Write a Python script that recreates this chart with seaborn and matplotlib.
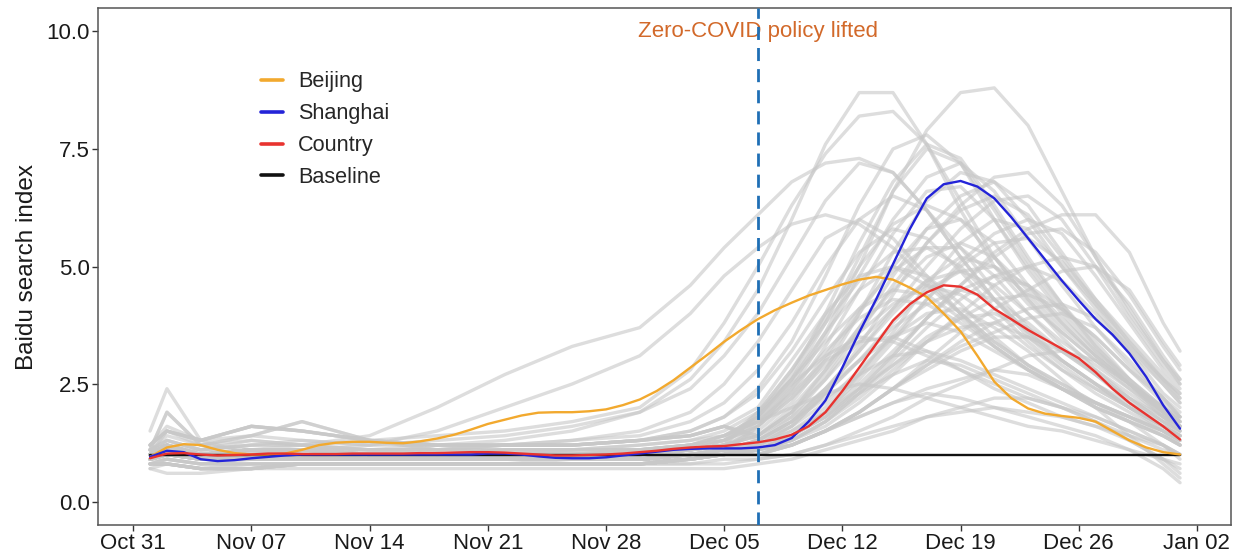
import numpy as np
import pandas as pd
import matplotlib
matplotlib.use("Agg")
import matplotlib.pyplot as plt
import matplotlib.dates as mdates
import seaborn as sns

# ---------------- data ----------------
days = pd.date_range("2022-11-01", "2023-01-01", freq="D")  # 62 days

beijing = [0.95, 1.15, 1.22, 1.20, 1.10, 1.03, 1.00, 1.00, 1.02, 1.10,
           1.20, 1.25, 1.27, 1.27, 1.25, 1.24, 1.28, 1.34, 1.42, 1.53,
           1.65, 1.74, 1.83, 1.89, 1.90, 1.90, 1.92, 1.96, 2.05, 2.17,
           2.35, 2.58, 2.85, 3.12, 3.40, 3.65, 3.88, 4.07, 4.23, 4.38,
           4.50, 4.62, 4.72, 4.78, 4.72, 4.55, 4.35, 4.00, 3.62, 3.10,
           2.55, 2.20, 1.98, 1.87, 1.82, 1.78, 1.70, 1.50, 1.30, 1.15,
           1.05, 1.00]
shanghai = [0.95, 1.08, 1.05, 0.90, 0.86, 0.88, 0.92, 0.95, 0.98, 1.00,
            1.00, 1.00, 1.00, 1.00, 1.00, 1.00, 1.00, 1.00, 1.00, 1.00,
            1.02, 1.02, 1.00, 0.96, 0.93, 0.92, 0.92, 0.94, 0.98, 1.02,
            1.06, 1.10, 1.12, 1.13, 1.13, 1.13, 1.15, 1.20, 1.35, 1.70,
            2.15, 2.85, 3.60, 4.30, 5.05, 5.80, 6.45, 6.75, 6.82, 6.70,
            6.45, 6.05, 5.60, 5.15, 4.70, 4.28, 3.88, 3.55, 3.15, 2.65,
            2.05, 1.55]
country = [0.92, 1.02, 1.03, 1.00, 0.98, 0.99, 1.00, 1.02, 1.02, 1.01,
           1.01, 1.01, 1.02, 1.02, 1.02, 1.02, 1.03, 1.03, 1.04, 1.05,
           1.05, 1.04, 1.02, 1.00, 0.98, 0.98, 0.99, 1.00, 1.02, 1.05,
           1.08, 1.12, 1.15, 1.17, 1.18, 1.22, 1.26, 1.32, 1.42, 1.60,
           1.90, 2.35, 2.85, 3.35, 3.85, 4.20, 4.45, 4.60, 4.57, 4.40,
           4.10, 3.88, 3.65, 3.45, 3.25, 3.05, 2.75, 2.40, 2.10, 1.85,
           1.60, 1.32]
baseline = [1.0] * 62

series_names = ["Beijing", "Shanghai", "Country", "Baseline"]
series_colors = ["#F2A92E", "#2424D8", "#E8332F", "#111111"]

# other cities (grey), sampled on a coarser grid of dates
city_dates = pd.to_datetime([
    "2022-11-01", "2022-11-02", "2022-11-04", "2022-11-07", "2022-11-10",
    "2022-11-14", "2022-11-18", "2022-11-22", "2022-11-26", "2022-11-30",
    "2022-12-03", "2022-12-05", "2022-12-07", "2022-12-09", "2022-12-11",
    "2022-12-13", "2022-12-15", "2022-12-17", "2022-12-19", "2022-12-21",
    "2022-12-23", "2022-12-25", "2022-12-27", "2022-12-29", "2022-12-31",
    "2023-01-01"])
other_cities = [
    [1.0, 1.2, 0.9, 1.0, 1.1, 1.1, 1.2, 1.3, 1.5, 1.9, 2.6, 3.4, 4.5, 6.0, 7.6, 8.7, 8.7, 7.6, 6.2, 5.0, 4.2, 3.6, 3.0, 2.5, 2.0, 1.8],
    [0.9, 1.1, 1.0, 1.1, 1.0, 1.0, 1.0, 1.1, 1.1, 1.2, 1.3, 1.4, 1.7, 2.5, 3.6, 5.0, 6.6, 7.9, 8.7, 8.8, 8.0, 6.6, 5.2, 4.0, 3.0, 2.6],
    [1.1, 1.4, 1.2, 1.3, 1.2, 1.3, 1.4, 1.5, 1.7, 2.0, 2.8, 3.8, 5.0, 6.3, 7.4, 8.2, 8.3, 7.6, 6.4, 5.2, 4.3, 3.6, 3.0, 2.4, 1.8, 1.6],
    [1.0, 1.2, 1.1, 1.2, 1.2, 1.4, 2.0, 2.7, 3.3, 3.7, 4.6, 5.4, 6.1, 6.8, 7.2, 7.3, 7.0, 6.2, 5.2, 4.3, 3.5, 2.9, 2.4, 2.0, 1.6, 1.4],
    [1.0, 1.1, 1.0, 1.1, 1.1, 1.2, 1.5, 2.0, 2.5, 3.1, 4.0, 4.8, 5.4, 5.9, 6.1, 5.9, 5.4, 4.7, 4.0, 3.4, 2.9, 2.5, 2.1, 1.8, 1.5, 1.3],
    [0.9, 1.0, 1.1, 1.3, 1.2, 1.1, 1.0, 1.0, 1.1, 1.1, 1.2, 1.4, 1.8, 2.6, 3.8, 5.2, 6.6, 7.5, 7.2, 6.2, 5.1, 4.2, 3.4, 2.6, 1.9, 1.6],
    [1.0, 1.1, 0.9, 1.0, 1.1, 1.0, 0.9, 1.0, 1.0, 1.0, 1.1, 1.2, 1.4, 1.9, 2.8, 4.0, 5.3, 6.4, 7.0, 6.8, 6.0, 5.0, 4.1, 3.2, 2.3, 2.0],
    [1.2, 1.6, 1.3, 1.4, 1.3, 1.2, 1.2, 1.2, 1.3, 1.4, 1.7, 2.1, 2.8, 3.8, 5.0, 6.0, 6.5, 6.2, 5.4, 4.5, 3.7, 3.0, 2.5, 2.0, 1.6, 1.4],
    [0.8, 0.9, 0.8, 0.9, 0.9, 0.9, 0.9, 0.9, 0.9, 0.9, 1.0, 1.0, 1.1, 1.4, 1.9, 2.7, 3.6, 4.6, 5.5, 6.0, 5.8, 5.0, 4.2, 3.4, 2.6, 2.2],
    [1.0, 1.3, 1.1, 1.0, 1.0, 1.0, 1.0, 1.1, 1.1, 1.1, 1.2, 1.3, 1.6, 2.2, 3.1, 4.1, 4.9, 5.4, 5.4, 4.8, 4.0, 3.3, 2.7, 2.1, 1.6, 1.4],
    [0.9, 1.0, 0.9, 0.9, 0.9, 0.9, 0.9, 0.9, 0.9, 0.9, 0.9, 1.0, 1.1, 1.3, 1.7, 2.3, 3.0, 3.7, 4.3, 4.8, 5.0, 4.7, 4.0, 3.3, 2.6, 2.3],
    [1.1, 1.2, 1.0, 1.1, 1.2, 1.1, 1.1, 1.1, 1.1, 1.2, 1.3, 1.5, 1.9, 2.6, 3.4, 4.1, 4.5, 4.4, 3.9, 3.3, 2.8, 2.4, 2.1, 1.8, 1.5, 1.3],
    [0.8, 0.9, 0.8, 0.8, 0.8, 0.8, 0.8, 0.8, 0.9, 0.9, 0.9, 1.0, 1.1, 1.3, 1.7, 2.3, 2.9, 3.5, 3.9, 4.0, 3.7, 3.2, 2.7, 2.2, 1.8, 1.6],
    [1.0, 1.1, 1.0, 1.0, 0.9, 1.0, 1.0, 1.0, 1.0, 1.0, 1.0, 1.0, 1.1, 1.2, 1.5, 1.9, 2.4, 2.8, 3.2, 3.5, 3.5, 3.2, 2.8, 2.3, 1.8, 1.5],
    [0.7, 0.8, 0.7, 0.8, 0.8, 0.8, 0.8, 0.8, 0.8, 0.8, 0.9, 1.0, 1.1, 1.4, 1.8, 2.3, 2.7, 3.0, 2.9, 2.6, 2.3, 2.0, 1.7, 1.4, 1.1, 1.0],
    [1.0, 1.0, 1.0, 1.1, 1.0, 1.0, 1.0, 1.0, 1.0, 1.1, 1.2, 1.4, 1.7, 2.0, 2.3, 2.5, 2.4, 2.2, 2.0, 1.8, 1.6, 1.5, 1.3, 1.1, 0.9, 0.8],
    [0.9, 0.9, 0.8, 0.8, 0.8, 0.8, 0.8, 0.8, 0.8, 0.8, 0.8, 0.8, 0.9, 1.0, 1.2, 1.4, 1.6, 1.8, 1.9, 2.0, 1.9, 1.8, 1.6, 1.3, 0.9, 0.6],
    [1.0, 1.1, 1.0, 1.0, 1.0, 1.0, 1.0, 1.0, 1.0, 1.0, 1.0, 1.1, 1.2, 1.4, 1.8, 2.4, 3.1, 3.9, 4.6, 5.3, 5.8, 6.1, 6.1, 5.3, 3.8, 3.2],
    [0.9, 1.0, 0.9, 0.9, 1.0, 0.9, 0.9, 0.9, 0.9, 0.9, 1.0, 1.0, 1.0, 1.2, 1.5, 1.9, 2.4, 3.0, 3.6, 4.1, 4.5, 4.9, 5.0, 4.5, 3.4, 2.9],
    [1.1, 1.3, 1.1, 1.2, 1.3, 1.2, 1.3, 1.4, 1.6, 1.9, 2.4, 3.1, 4.0, 5.2, 6.4, 7.2, 7.0, 6.2, 5.2, 4.3, 3.6, 3.0, 2.5, 2.0, 1.6, 1.4],
    [1.0, 1.2, 1.0, 1.1, 1.1, 1.1, 1.1, 1.2, 1.3, 1.5, 1.9, 2.5, 3.4, 4.5, 5.6, 6.0, 5.6, 4.8, 4.0, 3.3, 2.8, 2.4, 2.0, 1.7, 1.4, 1.2],
    [1.0, 1.0, 1.0, 1.0, 1.1, 1.0, 1.0, 1.0, 1.0, 1.0, 1.1, 1.2, 1.4, 2.0, 2.8, 3.7, 4.5, 5.2, 5.5, 5.2, 4.5, 3.8, 3.1, 2.5, 2.0, 1.7],
    [0.9, 1.0, 0.9, 1.0, 0.9, 0.9, 0.9, 0.9, 0.9, 0.9, 1.0, 1.0, 1.1, 1.4, 1.9, 2.5, 3.2, 3.9, 4.5, 4.8, 4.6, 4.1, 3.5, 2.8, 2.2, 1.9],
    [1.1, 1.1, 1.0, 1.1, 1.0, 1.0, 1.0, 1.0, 1.0, 1.0, 1.1, 1.2, 1.4, 1.8, 2.4, 3.0, 3.5, 3.8, 3.6, 3.2, 2.8, 2.4, 2.0, 1.7, 1.4, 1.2],
    [0.9, 1.0, 0.9, 1.0, 1.0, 1.0, 1.0, 1.0, 1.0, 1.0, 1.1, 1.3, 1.6, 2.3, 3.3, 4.5, 5.7, 6.6, 6.7, 6.0, 5.0, 4.1, 3.3, 2.5, 1.9, 1.6],
    [1.0, 1.1, 1.0, 1.0, 1.0, 1.0, 1.0, 1.0, 1.0, 1.0, 1.0, 1.0, 1.1, 1.2, 1.5, 1.9, 2.4, 2.9, 3.4, 3.8, 4.1, 4.2, 3.9, 3.2, 2.5, 2.1],
    [1.0, 1.5, 1.2, 1.1, 1.1, 1.1, 1.1, 1.2, 1.2, 1.3, 1.5, 1.8, 2.3, 3.2, 4.3, 5.3, 5.8, 5.6, 4.9, 4.1, 3.4, 2.8, 2.3, 1.9, 1.5, 1.3],
    [0.8, 0.9, 0.8, 0.8, 0.8, 0.8, 0.8, 0.8, 0.8, 0.8, 0.8, 0.9, 0.9, 1.0, 1.2, 1.5, 1.8, 2.2, 2.5, 2.8, 3.1, 3.2, 3.0, 2.5, 1.8, 1.5],
    [1.5, 2.4, 1.3, 1.0, 1.0, 1.0, 1.0, 1.0, 1.0, 1.0, 1.0, 1.1, 1.3, 1.6, 2.1, 2.8, 3.5, 4.0, 4.1, 3.7, 3.2, 2.6, 2.0, 1.4, 0.8, 0.5],
    [0.7, 0.6, 0.6, 0.7, 0.7, 0.7, 0.7, 0.7, 0.7, 0.7, 0.7, 0.7, 0.8, 0.9, 1.1, 1.3, 1.5, 1.8, 2.0, 2.2, 2.2, 2.0, 1.7, 1.3, 0.9, 0.7],
    [1.0, 1.1, 1.0, 1.0, 1.0, 1.0, 1.0, 1.0, 1.0, 1.1, 1.2, 1.4, 1.8, 2.6, 3.6, 4.5, 5.0, 4.8, 4.2, 3.5, 2.9, 2.4, 2.0, 1.7, 1.4, 1.2],
    [0.9, 1.0, 0.9, 0.9, 0.9, 0.9, 0.9, 0.9, 0.9, 0.9, 1.0, 1.0, 1.2, 1.6, 2.3, 3.0, 3.7, 4.2, 4.5, 4.3, 3.8, 3.2, 2.7, 2.2, 1.7, 1.5],
    [1.0, 1.1, 1.0, 1.1, 1.0, 1.0, 1.0, 1.0, 1.0, 1.0, 1.1, 1.1, 1.3, 1.7, 2.4, 3.2, 4.1, 5.0, 5.8, 6.4, 6.5, 6.0, 5.0, 3.9, 2.9, 2.5],
    [1.1, 1.3, 1.1, 1.2, 1.2, 1.1, 1.1, 1.2, 1.2, 1.3, 1.5, 1.8, 2.4, 3.4, 4.8, 6.3, 7.5, 7.8, 7.2, 6.0, 4.9, 4.0, 3.2, 2.5, 1.9, 1.6],
    [0.9, 1.0, 0.9, 0.9, 0.9, 0.9, 0.9, 0.9, 0.9, 1.0, 1.1, 1.3, 1.7, 2.3, 3.0, 3.4, 3.5, 3.2, 2.8, 2.4, 2.1, 1.8, 1.6, 1.4, 1.2, 1.0],
    [1.0, 1.0, 1.0, 1.0, 1.0, 1.0, 1.0, 1.0, 1.0, 1.0, 1.0, 1.0, 1.1, 1.3, 1.6, 2.1, 2.7, 3.4, 4.0, 4.6, 5.0, 5.2, 5.0, 4.2, 3.1, 2.6],
    [1.0, 1.2, 1.0, 1.1, 1.1, 1.0, 1.0, 1.0, 1.0, 1.0, 1.1, 1.2, 1.5, 2.1, 3.0, 4.0, 5.0, 5.8, 6.0, 5.5, 4.6, 3.8, 3.1, 2.5, 1.9, 1.6],
    [0.9, 1.0, 0.9, 0.9, 0.9, 0.9, 0.9, 0.9, 0.9, 0.9, 1.0, 1.1, 1.3, 1.7, 2.4, 3.2, 4.0, 4.7, 5.2, 5.0, 4.4, 3.7, 3.1, 2.5, 2.0, 1.7],
    [1.2, 1.5, 1.3, 1.6, 1.5, 1.3, 1.2, 1.2, 1.2, 1.3, 1.4, 1.6, 1.4, 1.9, 2.7, 3.7, 4.8, 5.8, 6.5, 6.8, 6.3, 5.3, 4.3, 3.4, 2.6, 2.2],
    [0.8, 0.8, 0.7, 0.7, 0.8, 0.8, 0.8, 0.8, 0.8, 0.8, 0.9, 1.0, 1.6, 2.2, 2.9, 3.6, 4.2, 4.6, 4.4, 3.9, 3.3, 2.8, 2.4, 2.0, 1.6, 1.4],
    [1.0, 1.2, 1.0, 1.1, 1.1, 1.0, 1.0, 1.0, 1.0, 1.0, 1.1, 1.2, 1.2, 1.5, 2.0, 2.7, 3.5, 4.3, 5.0, 5.5, 5.6, 5.1, 4.3, 3.5, 2.7, 2.3],
    [0.9, 1.0, 0.9, 0.9, 0.9, 0.9, 0.9, 0.9, 0.9, 0.9, 1.0, 1.1, 1.6, 2.4, 3.5, 4.8, 6.0, 6.9, 7.2, 6.6, 5.6, 4.6, 3.7, 2.9, 2.2, 1.8],
    [0.8, 0.8, 0.7, 0.7, 0.8, 0.8, 0.8, 0.8, 0.8, 0.8, 0.9, 1.0, 1.3, 1.7, 2.2, 2.7, 3.1, 3.2, 3.0, 2.7, 2.4, 2.1, 1.8, 1.5, 1.2, 1.0],
    [1.2, 1.5, 1.3, 1.6, 1.5, 1.3, 1.2, 1.2, 1.2, 1.3, 1.4, 1.6, 2.0, 3.0, 4.0, 4.8, 5.0, 4.6, 4.0, 3.4, 2.9, 2.5, 2.1, 1.8, 1.5, 1.3],
    [0.9, 1.0, 0.9, 0.9, 0.9, 0.9, 0.9, 0.9, 0.9, 0.9, 1.0, 1.1, 1.1, 1.3, 1.7, 2.2, 2.8, 3.4, 3.9, 4.3, 4.4, 4.1, 3.5, 2.8, 2.1, 1.8],
    [1.1, 1.9, 1.2, 1.4, 1.7, 1.3, 1.1, 1.1, 1.1, 1.1, 1.2, 1.3, 1.9, 2.8, 3.9, 5.0, 5.9, 6.3, 6.0, 5.2, 4.3, 3.5, 2.8, 2.2, 1.7, 1.5],
    [1.0, 1.2, 1.0, 1.1, 1.1, 1.0, 1.0, 1.0, 1.0, 1.0, 1.1, 1.2, 1.2, 1.5, 1.9, 2.4, 2.9, 3.4, 3.7, 3.8, 3.5, 3.0, 2.5, 2.0, 1.5, 1.2],
    [0.8, 0.8, 0.7, 0.7, 0.8, 0.8, 0.8, 0.8, 0.8, 0.8, 0.9, 1.0, 1.1, 1.4, 1.8, 2.4, 3.1, 3.9, 4.6, 5.2, 5.7, 5.8, 5.3, 4.4, 3.3, 2.8],
    [1.0, 1.2, 1.0, 1.1, 1.1, 1.0, 1.0, 1.0, 1.0, 1.0, 1.1, 1.2, 1.8, 2.7, 4.0, 5.5, 6.8, 7.6, 7.3, 6.3, 5.2, 4.2, 3.3, 2.6, 2.0, 1.7],
    [1.2, 1.5, 1.3, 1.6, 1.5, 1.3, 1.2, 1.2, 1.2, 1.3, 1.4, 1.6, 1.4, 1.9, 2.6, 3.4, 4.1, 4.7, 4.9, 4.6, 4.0, 3.4, 2.9, 2.4, 1.9, 1.6],
    [0.8, 0.8, 0.7, 0.7, 0.8, 0.8, 0.8, 0.8, 0.8, 0.8, 0.9, 1.0, 1.0, 1.2, 1.5, 1.8, 2.1, 2.4, 2.6, 2.8, 2.7, 2.4, 2.1, 1.7, 1.2, 0.9],
    [0.9, 1.0, 0.9, 0.9, 0.9, 0.9, 0.9, 0.9, 0.9, 0.9, 1.0, 1.1, 1.3, 1.8, 2.6, 3.6, 4.6, 5.5, 6.2, 6.5, 6.1, 5.2, 4.2, 3.3, 2.5, 2.1],
    [1.0, 1.2, 1.0, 1.1, 1.1, 1.0, 1.0, 1.0, 1.0, 1.0, 1.1, 1.2, 1.9, 2.8, 3.8, 4.7, 5.3, 5.4, 5.0, 4.3, 3.6, 3.0, 2.5, 2.1, 1.7, 1.4],
    [0.9, 1.0, 0.9, 0.9, 0.9, 0.9, 0.9, 0.9, 0.9, 0.9, 1.0, 1.1, 1.0, 1.2, 1.5, 1.9, 2.4, 2.9, 3.3, 3.6, 3.9, 4.0, 3.7, 3.0, 2.2, 1.8],
    [1.0, 1.2, 1.0, 1.1, 1.1, 1.0, 1.0, 1.0, 1.0, 1.0, 1.1, 1.2, 1.2, 1.6, 2.3, 3.3, 4.4, 5.5, 6.3, 6.9, 7.0, 6.3, 5.2, 4.1, 3.0, 2.5],
    [1.1, 1.9, 1.2, 1.4, 1.7, 1.3, 1.1, 1.1, 1.1, 1.1, 1.2, 1.3, 1.8, 2.5, 3.1, 3.5, 3.4, 3.1, 2.8, 2.5, 2.2, 2.0, 1.8, 1.5, 1.2, 1.0],
    [1.2, 1.5, 1.3, 1.6, 1.5, 1.3, 1.2, 1.2, 1.2, 1.3, 1.4, 1.6, 1.3, 1.7, 2.3, 3.0, 3.8, 4.5, 4.9, 5.0, 4.6, 3.9, 3.2, 2.6, 2.0, 1.7],
    [0.9, 1.0, 0.9, 0.9, 0.9, 0.9, 0.9, 0.9, 0.9, 0.9, 1.0, 1.1, 1.7, 2.4, 3.2, 3.9, 4.3, 4.2, 3.8, 3.3, 2.8, 2.4, 2.1, 1.8, 1.4, 1.2],
    [0.8, 0.8, 0.7, 0.7, 0.8, 0.8, 0.8, 0.8, 0.8, 0.8, 0.9, 1.0, 1.1, 1.4, 1.9, 2.6, 3.4, 4.3, 5.1, 5.7, 6.0, 5.7, 4.8, 3.8, 2.8, 2.4],
    [0.8, 0.8, 0.7, 0.7, 0.8, 0.8, 0.8, 0.8, 0.8, 0.8, 0.9, 1.0, 1.0, 1.2, 1.5, 1.8, 2.1, 2.3, 2.2, 2.0, 1.8, 1.6, 1.4, 1.1, 0.7, 0.4],
]

policy_date = pd.Timestamp("2022-12-07")
policy_label = "Zero-COVID policy lifted"
y_label = "Baidu search index"
y_ticks = [0.0, 2.5, 5.0, 7.5, 10.0]
x_ticks = pd.to_datetime(["2022-10-31", "2022-11-07", "2022-11-14", "2022-11-21",
                          "2022-11-28", "2022-12-05", "2022-12-12", "2022-12-19",
                          "2022-12-26", "2023-01-02"])

# ---------------- frames ----------------
grey_df = pd.DataFrame({
    "date": np.tile(city_dates, len(other_cities)),
    "value": np.concatenate([np.array(c) for c in other_cities]),
    "city": np.repeat(np.arange(len(other_cities)), len(city_dates)),
})
main_df = pd.concat([
    pd.DataFrame({"date": days, "value": vals, "series": name})
    for name, vals in zip(series_names, [beijing, shanghai, country, baseline])
])

# ---------------- plot ----------------
sns.set_theme(style="white")
plt.rcParams["font.family"] = ["Liberation Sans", "DejaVu Sans"]

fig = plt.figure(figsize=(12.45, 5.59), dpi=100)
ax = fig.add_axes([0.0787, 0.0608, 0.9101, 0.9249])

sns.lineplot(data=grey_df, x="date", y="value", units="city", estimator=None,
             color="#c8c8c8", alpha=0.62, lw=2.4, ax=ax, legend=False)

draw_order = ["Baseline", "Beijing", "Shanghai", "Country"]
palette = dict(zip(series_names, series_colors))
for name in draw_order:
    sub = main_df[main_df["series"] == name]
    sns.lineplot(data=sub, x="date", y="value", color=palette[name],
                 lw=1.7, ax=ax, label=name)

ax.axvline(policy_date, color="#1F6FB5", lw=2.0, ls=(0, (4.7, 2.9)), zorder=5)
ax.text(policy_date, 10.0, policy_label, ha="center", va="center",
        color="#D2692A", fontsize=16)

ax.set_xlim(pd.Timestamp("2022-10-28 22:00"), pd.Timestamp("2023-01-04 00:30"))
ax.set_ylim(-0.5, 10.5)
ax.set_yticks(y_ticks)
ax.set_yticklabels([f"{t:.1f}" for t in y_ticks])
ax.set_xticks(x_ticks)
ax.xaxis.set_major_formatter(mdates.DateFormatter("%b %d"))
ax.set_xlabel("")
ax.set_ylabel(y_label, fontsize=17.5, color="#1a1a1a", labelpad=6)

ax.tick_params(axis="both", which="major", direction="out", length=4, width=1,
               color="#333333", labelsize=16, labelcolor="#1a1a1a", pad=2,
               bottom=True, left=True)
for sp in ax.spines.values():
    sp.set_visible(True)
    sp.set_color("#555555")
    sp.set_linewidth(1.1)

handles, labels = ax.get_legend_handles_labels()
order = [labels.index(n) for n in series_names]
leg = ax.legend([handles[i] for i in order], [labels[i] for i in order],
                loc="upper left", bbox_to_anchor=(0.127, 0.915), frameon=False,
                fontsize=15.6, handlelength=1.0, handletextpad=0.7,
                labelspacing=0.5)
for line in leg.get_lines():
    line.set_linewidth(2.6)

fig.savefig("out.png", dpi=100)
